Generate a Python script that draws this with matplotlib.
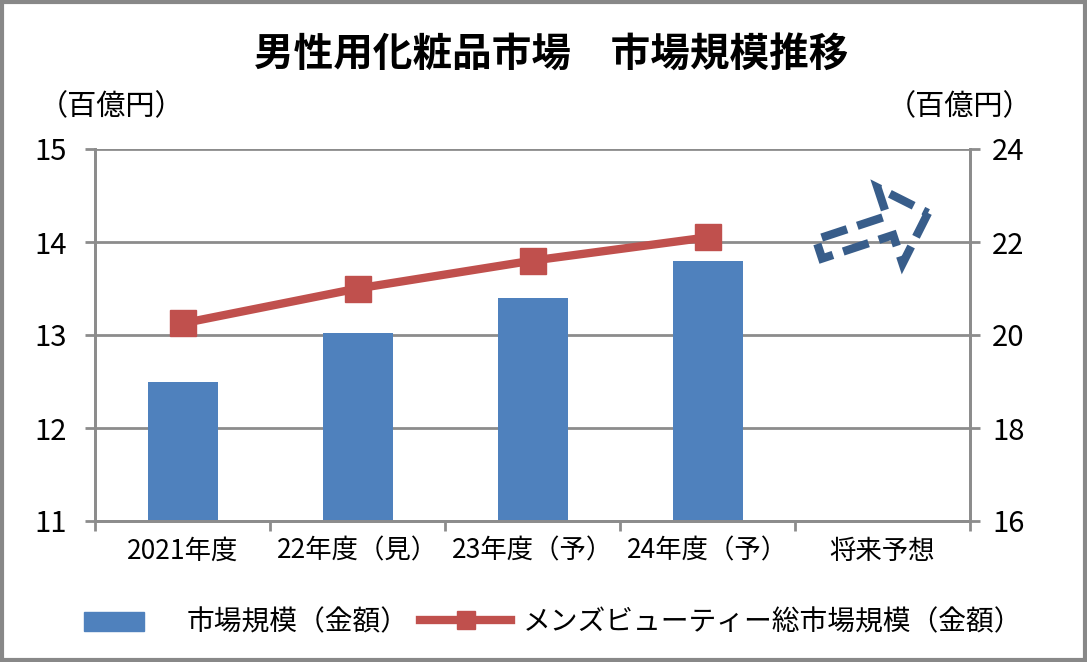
import matplotlib
matplotlib.use("Agg")
import matplotlib.pyplot as plt
import matplotlib.patches as mpatches
from matplotlib.lines import Line2D
from matplotlib.legend_handler import HandlerPatch

plt.rcParams['font.family'] = ['Noto Sans CJK JP', 'DejaVu Sans']

categories = ['2021年度', '22年度（見）', '23年度（予）', '24年度（予）', '将来予想']
market_size = [12.5, 13.02, 13.4, 13.8]          # left axis, 百億円
mens_beauty_total = [20.25, 21.0, 21.6, 22.1]     # right axis, 百億円
left_ticks = [11, 12, 13, 14, 15]
right_ticks = [16, 18, 20, 22, 24]

bar_color = '#4f81bd'
line_color = '#c0504d'
grid_color = '#8c8c8c'

fig = plt.figure(figsize=(10.87, 6.62), dpi=100)
ax = fig.add_axes([95/1087, 1 - 521/662, 875/1087, 372/662])
ax2 = ax.twinx()

x = list(range(len(categories)))
ax.bar(x[:len(market_size)], market_size, width=0.4, color=bar_color, zorder=2)
ax.set_xlim(-0.5, len(categories) - 0.5)
ax.set_ylim(left_ticks[0], left_ticks[-1])
ax.set_yticks(left_ticks)
ax.yaxis.grid(True, color=grid_color, lw=2, zorder=0)
ax.set_axisbelow(True)

ax2.plot(x[:len(mens_beauty_total)], mens_beauty_total, color=line_color, lw=6,
         marker='s', ms=19, zorder=3)
ax2.set_ylim(right_ticks[0], right_ticks[-1])
ax2.set_yticks(right_ticks)

# category boundaries as x ticks
ax.set_xticks([i - 0.5 for i in range(len(categories) + 1)], minor=False)
ax.set_xticklabels([])
ax.set_xticks(x, minor=True)
ax.set_xticklabels(categories, minor=True, fontsize=19)
ax.tick_params(axis='x', which='minor', length=0, pad=12)
ax.tick_params(axis='x', which='major', length=7, width=2, color=grid_color)
ax.tick_params(axis='y', length=7, width=2, color=grid_color, labelsize=21, pad=13)
ax2.tick_params(axis='y', length=7, width=2, color=grid_color, labelsize=21, pad=9)

for a in (ax, ax2):
    a.spines['top'].set_visible(False)
    for s in ('left', 'right', 'bottom'):
        a.spines[s].set_color(grid_color)
        a.spines[s].set_linewidth(2)

fig.text(551/1087, 1 - 55/662, '男性用化粧品市場　市場規模推移', ha='center', va='center',
         fontsize=28.5, fontweight='bold')
fig.text(112/1087, 1 - 107/662, '（百億円）', ha='center', va='center', fontsize=21)
fig.text(960/1087, 1 - 107/662, '（百億円）', ha='center', va='center', fontsize=21)

# dashed "future" arrow
arrow = mpatches.FancyArrow(8.19, 4.13, 1.09, 0.36, width=0.2, head_width=0.8,
                            head_length=0.4, length_includes_head=True,
                            transform=fig.dpi_scale_trans, fill=False,
                            edgecolor='#385d8a', lw=6, linestyle=(0, (3.2, 1.3)),
                            joinstyle='miter')
fig.patches.append(arrow)


def narrow_patch(legend, orig_handle, xdescent, ydescent, width, height, fontsize):
    return mpatches.Rectangle((-xdescent, -ydescent - height * 0.05), width * 0.66,
                              height * 1.0)


handles = [mpatches.Patch(color=bar_color),
           Line2D([], [], color=line_color, lw=6, marker='s', ms=13)]
labels = ['市場規模（金額）', 'メンズビューティー総市場規模（金額）']
fig.legend(handles, labels, loc='center', bbox_to_anchor=(553/1087, 1 - 622/662),
           ncol=2, frameon=False, fontsize=20, handlelength=3.3, columnspacing=0.4,
           handletextpad=0.4,
           handler_map={mpatches.Patch: HandlerPatch(patch_func=narrow_patch)})

border = mpatches.Rectangle((0.002, 0.003), 0.996, 0.994, transform=fig.transFigure,
                            fill=False, edgecolor='#888888', lw=3)
fig.patches.append(border)

fig.savefig('out.png', dpi=100)
